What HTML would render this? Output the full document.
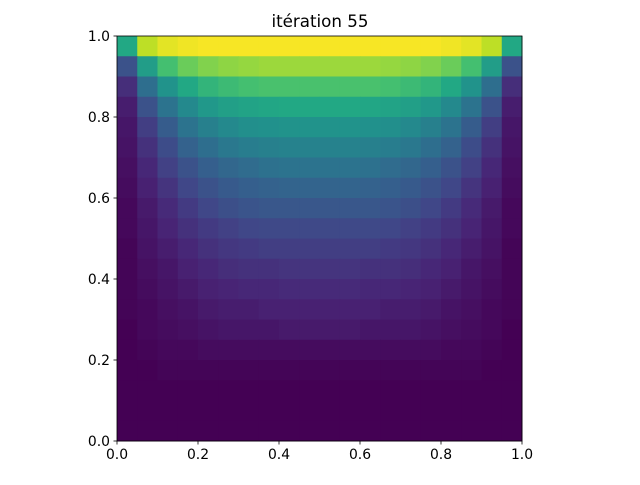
<!DOCTYPE html>
<html><head><meta charset="utf-8"><style>
body{margin:0;background:#fff}
svg text{font-family:"DejaVu Sans","Liberation Sans",sans-serif;font-size:13.9px;fill:#000}
</style></head><body>
<svg id="chart" width="640" height="480" viewBox="0 0 640 480">
<rect width="640" height="480" fill="#fff"/>
<text x="320" y="27" text-anchor="middle" style="font-size:16.7px">itération 55</text>
<g id="cells"></g>
<rect x="117" y="36" width="405" height="405" fill="none" stroke="#000" stroke-width="0.8"/>
<g id="axes"></g>
</svg>
<script>
// half-row values (left half, mirrored to right), rows from top (y≈0.975) to bottom
const halfRows = [
[.60,.90,.96,.98,.99,.99,.99,.99,.99,.99],
[.25,.55,.70,.77,.81,.83,.84,.85,.85,.85],
[.13,.36,.51,.60,.65,.68,.70,.71,.71,.71],
[.08,.25,.38,.47,.53,.56,.58,.59,.60,.60],
[.06,.18,.29,.38,.43,.47,.49,.50,.51,.51],
[.05,.14,.23,.31,.36,.40,.42,.43,.44,.44],
[.04,.11,.19,.25,.30,.33,.35,.37,.38,.38],
[.03,.09,.15,.21,.25,.28,.30,.31,.32,.32],
[.02,.07,.12,.17,.21,.24,.26,.27,.27,.27],
[.02,.06,.10,.14,.17,.19,.21,.22,.22,.22],
[.01,.05,.08,.11,.14,.16,.17,.18,.18,.18],
[.01,.04,.06,.09,.11,.13,.14,.14,.15,.15],
[.01,.03,.05,.07,.09,.10,.11,.11,.12,.12],
[.01,.02,.04,.05,.07,.08,.08,.09,.09,.09],
[0,.02,.03,.04,.05,.06,.06,.06,.07,.07],
[0,.01,.02,.02,.03,.03,.03,.03,.03,.03],
[0,0,.01,.01,.01,.01,.01,.01,.01,.01],
[0,0,0,0,0,0,0,0,0,0],
[0,0,0,0,0,0,0,0,0,0],
[0,0,0,0,0,0,0,0,0,0]
];
const xTicks = [0,0.2,0.4,0.6,0.8,1.0];
const yTicks = [0,0.2,0.4,0.6,0.8,1.0];
const xTickLabels = ["0.0","0.2","0.4","0.6","0.8","1.0"];
const yTickLabels = ["0.0","0.2","0.4","0.6","0.8","1.0"];

const X0=117,Y0=441,W=405,H=405;
const sx=v=>X0+v*W, sy=v=>Y0-v*H;
const vir=["#440154","#482475","#414487","#355f8d","#2a788e","#21918c","#22a884","#44bf70","#7ad151","#bddf26","#fde725"];
function hex(c){return [1,3,5].map(i=>parseInt(c.substr(i,2),16));}
function cmap(v){v=Math.max(0,Math.min(1,v));const t=v*10,i=Math.min(9,Math.floor(t)),f=t-i;
const a=hex(vir[i]),b=hex(vir[i+1]);return "rgb("+a.map((x,k)=>Math.round(x+(b[k]-x)*f)).join(",")+")";}
const NS="http://www.w3.org/2000/svg";
const cells=document.getElementById("cells");
const nr=halfRows.length;
halfRows.forEach((hr,r)=>{
  const row=hr.concat(hr.slice().reverse());
  const nc=row.length;
  row.forEach((v,c)=>{
    const e=document.createElementNS(NS,"rect");
    const x1=sx(c/nc),x2=sx((c+1)/nc),y1=sy(1-r/nr),y2=sy(1-(r+1)/nr);
    e.setAttribute("x",x1);e.setAttribute("y",y1);
    e.setAttribute("width",x2-x1+0.5);e.setAttribute("height",y2-y1+0.5);
    e.setAttribute("fill",cmap(v));
    
    
    cells.appendChild(e);
  });
});
const axes=document.getElementById("axes");
xTicks.forEach((v,i)=>{
  const l=document.createElementNS(NS,"line");
  l.setAttribute("x1",sx(v));l.setAttribute("x2",sx(v));l.setAttribute("y1",Y0);l.setAttribute("y2",Y0+3.5);l.setAttribute("stroke","#000");l.setAttribute("stroke-width","0.8");
  
  
  axes.appendChild(l);
  const t=document.createElementNS(NS,"text");
  t.setAttribute("x",sx(v));t.setAttribute("y",Y0+18);t.setAttribute("text-anchor","middle");t.textContent=xTickLabels[i];
  
  
  axes.appendChild(t);
});
yTicks.forEach((v,i)=>{
  const l=document.createElementNS(NS,"line");
  l.setAttribute("x1",X0-3.5);l.setAttribute("x2",X0);l.setAttribute("y1",sy(v));l.setAttribute("y2",sy(v));l.setAttribute("stroke","#000");l.setAttribute("stroke-width","0.8");
  
  
  axes.appendChild(l);
  const t=document.createElementNS(NS,"text");
  t.setAttribute("x",X0-7);t.setAttribute("y",sy(v)+5);t.setAttribute("text-anchor","end");t.textContent=yTickLabels[i];
  
  
  axes.appendChild(t);
});
</script>
</body></html>
